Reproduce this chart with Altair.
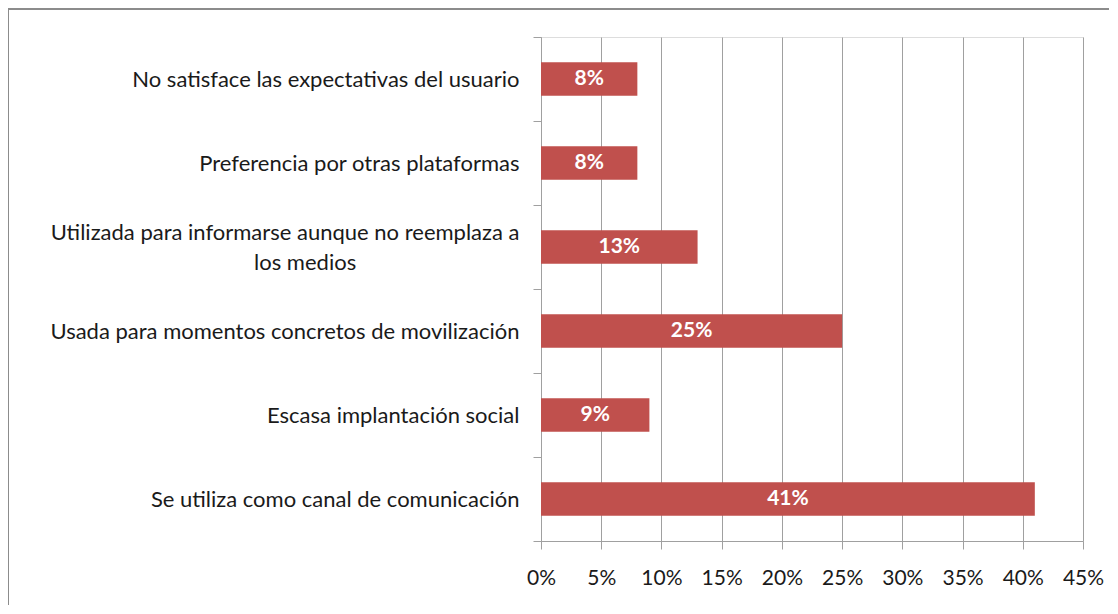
import altair as alt
import pandas as pd

categories = [
    "No satisface las expectativas del usuario",
    "Preferencia por otras plataformas",
    "Utilizada para informarse aunque no reemplaza a los medios",
    "Usada para momentos concretos de movilización",
    "Escasa implantación social",
    "Se utiliza como canal de comunicación",
]
values = [0.08, 0.08, 0.13, 0.25, 0.09, 0.41]
x_ticks = [0, 0.05, 0.10, 0.15, 0.20, 0.25, 0.30, 0.35, 0.40, 0.45]

df = pd.DataFrame({"cat": categories, "val": values})

FONT = "Lato"
GRID = "#A0A0A0"
BAR = "#C0504D"
WRAPPED = "Utilizada para informarse aunque no reemplaza a los medios"

wrap_pad = "\u00a0" * 29 + "\u200b"
label_expr = (
    "datum.value == '" + WRAPPED + "'"
    " ? ['Utilizada para informarse aunque no reemplaza a', 'los medios" + wrap_pad + "']"
    " : datum.value"
)

y_enc = alt.Y(
    "cat:N",
    sort=categories,
    scale=alt.Scale(paddingInner=0, paddingOuter=0),
    axis=alt.Axis(
        title=None,
        labelExpr=label_expr,
        labelFont=FONT,
        labelFontSize=22,
        labelColor="#1a1a1a",
        labelLimit=700,
        labelPadding=14,
        labelLineHeight=30,
        labelOffset={"condition": {"test": "datum.value == '" + WRAPPED + "'", "value": -15}, "value": 0},
        tickBand="extent",
        tickSize=8,
        tickColor=GRID,
        domainColor=GRID,
        grid=False,
    ),
)

x_enc = alt.X(
    "val:Q",
    scale=alt.Scale(domain=[0, 0.45], nice=False),
    axis=alt.Axis(
        title=None,
        values=x_ticks,
        format=".0%",
        labelFont=FONT,
        labelFontSize=21,
        labelColor="#1a1a1a",
        labelPadding=18,
        labelOverlap=False,
        labelFlush=False,
        tickSize=8,
        tickColor=GRID,
        domainColor=GRID,
        gridColor=GRID,
        gridOpacity=1,
    ),
)

bars = alt.Chart(df).mark_bar(color=BAR, cornerRadius=0, height={"band": 0.4}).encode(x=x_enc, y=y_enc)

labels = alt.Chart(df).mark_text(
    color="white", font=FONT, fontSize=21, fontWeight="bold", align="center", baseline="middle"
).encode(
    x=alt.X("mid:Q", scale=alt.Scale(domain=[0, 0.45], nice=False)),
    y=alt.Y("cat:N", sort=categories),
    text=alt.Text("val:Q", format=".0%"),
).transform_calculate(mid="datum.val / 2")

border = alt.Chart(df).mark_rect(
    fill=None, stroke="#8C8C8C", strokeWidth=2, clip=False
).encode(
    x=alt.value(-533),
    x2=alt.value(700),
    y=alt.value(-28),
    y2=alt.value(700),
)

chart = (
    alt.layer(border, bars, labels)
    .properties(width=542, height=504, padding={"left": 533, "top": 29, "right": 26, "bottom": 64}, autosize="none")
    .configure_view(stroke=None)
    .configure(background="white")
)

chart.save("out.html", embed_options={"renderer": "svg", "actions": False})
